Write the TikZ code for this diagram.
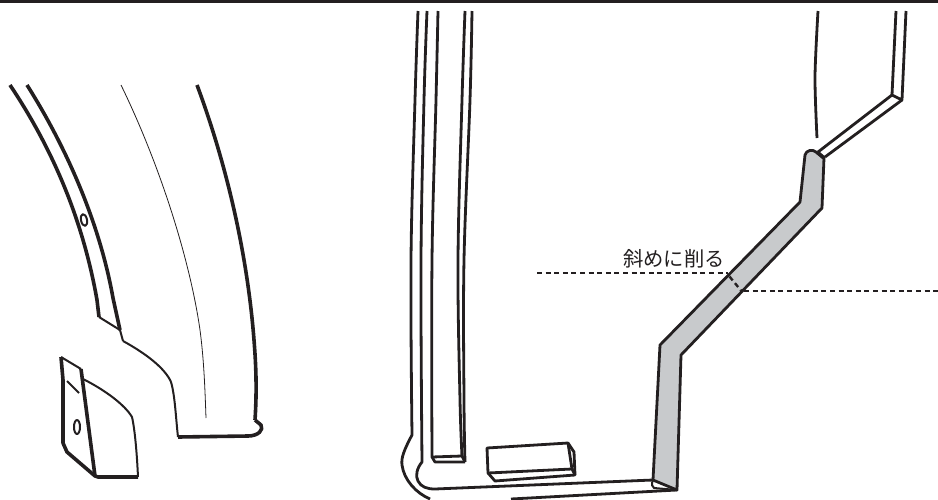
\documentclass[tikz,border=0pt]{standalone}
\usepackage{fontspec}
\newfontfamily\cjk{Noto Sans CJK JP}
\definecolor{ink}{HTML}{231F20}
\definecolor{band}{HTML}{C8CACC}
\tikzset{
  heavy/.style={draw=ink,line width=3.6pt,line join=round},
  medium/.style={draw=ink,line width=2.8pt,line join=round},
  light/.style={draw=ink,line width=2pt,line join=round},
  hair/.style={draw=ink,line width=0.8pt},
  dashline/.style={draw=ink,line width=2.4pt,dash pattern=on 5pt off 3.6pt}
}
\begin{document}
\begin{tikzpicture}[x=1pt,y=-1pt]
\useasboundingbox (0,0) rectangle (938,499);
\fill[ink] (0,0) rectangle (938,3);
% left: upper piece
\draw[heavy] (10,85) .. controls (50,145) and (82,215) .. (97,300) -- (99,317);
\draw[heavy] (27,85) .. controls (68,150) and (100,225) .. (113,298) -- (120,330);
\draw[light] (99,317) -- (120,330) -- (123,341);
\draw[light] (123,341) .. controls (145,353) and (165,368) .. (171,382) .. controls (175,395) and (176,420) .. (178,437);
\draw[heavy] (178,437) -- (248,436) .. controls (258,436) and (264,430) .. (261,425) -- (255,420);
\draw[heavy] (197,85) .. controls (225,160) and (247,250) .. (254,340) .. controls (256,365) and (257,390) .. (255,420);
\draw[hair] (121,85) .. controls (160,165) and (190,260) .. (200,330) .. controls (204,360) and (205,390) .. (206,418);
\draw[light,rotate around={12:(84,220)}] (84,220) ellipse (3pt and 6pt);
% left: lower piece
\draw[heavy] (61,357) -- (63,380) -- (63,443) -- (67,452) -- (95,476) -- (98,477) -- (138,477);
\draw[light] (61,357) -- (81,369);
\draw[heavy] (81,369) -- (95,476);
\draw[light] (83,379) .. controls (105,390) and (125,405) .. (132,417) .. controls (135,430) and (137,455) .. (138,477);
\draw[light] (67,381) -- (79,393);
\draw[light] (77,427) ellipse (3pt and 7pt);
% right: frame
\draw[medium] plot[smooth,tension=0.6] coordinates {(418,11) (415,100) (411,260) (412,435)} .. controls (404,450) and (401,458) .. (402,465) .. controls (404,480) and (416,493) .. (430,499);
\draw[medium] (511,499) -- (677,490);
\draw[medium] plot[smooth,tension=0.6] coordinates {(427,11) (424,100) (421,260) (422,462)} .. controls (417,468) and (415,476) .. (418,481) .. controls (421,487) and (427,489) .. (435,489) -- (653,480);
\draw[medium] plot[smooth,tension=0.6] coordinates {(438,11) (436,100) (432,260) (432,457)} -- (435,462) -- (465,462);
\draw[medium] plot[smooth,tension=0.6] coordinates {(465,11) (462,100) (458,260) (460,400) (462,456)} -- (432,457);
\draw[medium] plot[smooth,tension=0.6] coordinates {(472,11) (470,100) (464,260) (464,400) (465,462)};
\draw[medium] (462,456) -- (465,462);
% right: block
\draw[medium] (487,448) -- (568,443) -- (574,452) -- (575,475) -- (495,481) -- (488,473) -- cycle;
\draw[medium] (488,473) -- (572,469) -- (575,475);
\draw[medium] (568,443) -- (572,469);
% grey band
\path[fill=band] (653,480) -- (660,345) -- (800,202) -- (805,155) .. controls (806,150) and (813,149) .. (816,152) -- (824,158) -- (822,208) -- (681,355) -- (677,490) -- cycle;
\draw[medium] (653,480) -- (660,345) -- (800,202) -- (805,155) .. controls (806,150) and (813,149) .. (816,152) -- (824,158) -- (822,208) -- (681,355) -- (677,490) -- cycle;
\draw[light] (653,480) .. controls (651,484) and (652,487) .. (654,488) -- (677,490);
% top right
\draw[medium] plot[smooth,tension=0.5] coordinates {(818,11) (815,77) (817,138)};
\draw[medium] (896,11) -- (892,95) -- (902,100) -- (906,11);
\draw[medium] (892,95) -- (818,152);
\draw[medium] (902,100) -- (825,157);
\draw[draw=ink,line width=3.8pt] (817,152) -- (824,158);
% dashes
\draw[dashline] (537,273) -- (728,273);
\draw[dashline] (729.5,276.5) -- (741,290.5);
\draw[dashline] (744,291) -- (938,291);
\node[text=ink,anchor=center,inner sep=0pt] (label) at (674,259) {\cjk\fontsize{20.3pt}{21pt}\selectfont 斜めに削る};
\end{tikzpicture}
\end{document}
